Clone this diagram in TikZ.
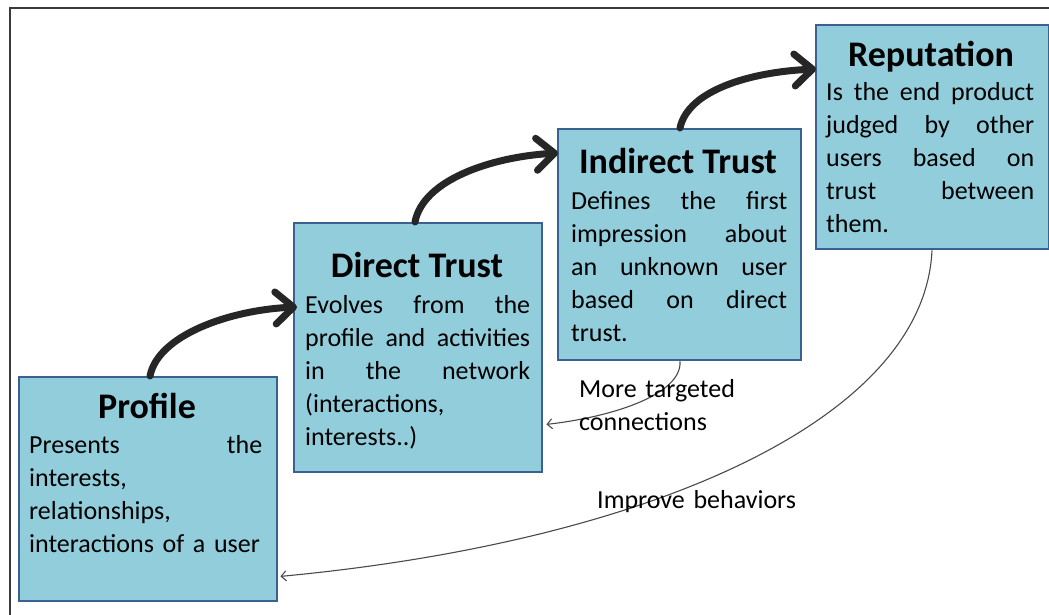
\documentclass[tikz,border=0pt]{standalone}
\usepackage{fontspec}
\setmainfont{Carlito}
\usetikzlibrary{arrows.meta}
\definecolor{boxfill}{HTML}{92CDDC}
\definecolor{boxline}{HTML}{3A6190}
\definecolor{arrowdark}{HTML}{262626}
\definecolor{thinarrow}{HTML}{4A4A4A}
\definecolor{frameline}{HTML}{3A3A3A}
\newcommand{\jl}[1]{\leavevmode\hbox to\hsize{#1}}
\tikzset{
  stagebox/.style={draw=boxline, fill=boxfill, line width=2.4pt, rectangle, inner sep=0pt, anchor=north west},
  stagetitle/.style={anchor=base, inner sep=0pt, font=\fontsize{36}{42}\selectfont\bfseries},
  stagebody/.style={anchor=base west, inner sep=0pt, align=left, font=\fontsize{26}{33}\selectfont},
  bigarrow/.style={draw=arrowdark, line width=7pt, line cap=round, -{Straight Barb[length=18pt,width=32pt,round]}},
  thinlink/.style={draw=thinarrow, line width=1.1pt, -{Straight Barb[length=5pt,width=10pt]}},
  linklabel/.style={anchor=base west, inner sep=0pt, align=left, font=\fontsize{26}{33}\selectfont}
}
\begin{document}
\begin{tikzpicture}[x=1pt,y=-1pt]
\useasboundingbox (0,0) rectangle (1049,615);
\fill[white] (0,0) rectangle (1049,615);
\draw[frameline, line width=2pt] (1070,8) -- (10,8) -- (10,630);

\node[stagebox, minimum width=258pt, minimum height=224pt] (profile) at (18,376) {};
\node[stagebox, minimum width=248pt, minimum height=249pt] (direct) at (293,222) {};
\node[stagebox, minimum width=243pt, minimum height=231pt] (indirect) at (557,128) {};
\node[stagebox, minimum width=233pt, minimum height=224pt] (reputation) at (815,24) {};

\node[stagetitle] (profiletitle) at (147,418) {Profile};
\node[stagetitle] (directtitle) at (417,277) {Direct Trust};
\node[stagetitle] (indirecttitle) at (678,173) {Indirect Trust};
\node[stagetitle] (reputationtitle) at (931,67) {Reputation};

\node[stagebody, text width=233pt] (profilebody) at (29,453)
  {\jl{Presents\hfill the}\\ interests,\\ relationships,\\ interactions of a user};
\node[stagebody, text width=225pt] (directbody) at (305,313)
  {\jl{Evolves\hfill from\hfill the}\\ \jl{profile\hfill and\hfill activities}\\ \jl{in\hfill the\hfill network}\\ (interactions,\\ interests..)};
\node[stagebody, text width=216pt] (indirectbody) at (571,209)
  {\jl{Defines\hfill the\hfill first}\\ \jl{impression\hfill about}\\ \jl{an\hfill unknown\hfill user}\\ \jl{based\hfill on\hfill direct}\\ trust.};
\node[stagebody, text width=208pt] (reputationbody) at (826,101)
  {\jl{Is\hfill the\hfill end\hfill product}\\ \jl{judged\hfill by\hfill other}\\ \jl{users\hfill based\hfill on}\\ \jl{trust\hfill between}\\ them.};

\draw[bigarrow] ([xshift=132pt]profile.north west) .. controls +(8,-41) and +(-67,3) .. ([shift={(4pt,-85pt)}]direct.north west);
\draw[bigarrow] ([xshift=122pt]direct.north west) .. controls +(8,-42) and +(-67,4) .. ([shift={(1pt,-25pt)}]indirect.north west);
\draw[bigarrow] ([xshift=123pt]indirect.north west) .. controls +(8,-38) and +(-65,3) .. ([shift={(1pt,-45pt)}]reputation.north west);

\draw[thinlink] ([xshift=123pt]indirect.south west) .. controls +(2,32) and +(70,-8) .. ([shift={(3pt,49pt)}]direct.south east);
\draw[thinlink] ([xshift=117pt]reputation.south west) .. controls +(-8,172) and +(362,-34) .. ([shift={(2pt,26pt)}]profile.south east);

\node[linklabel, text width=180pt] (targetedlabel) at (579,397) {More targeted\\connections};
\node[linklabel, text width=220pt] (improvelabel) at (597,508) {Improve behaviors};
\end{tikzpicture}
\end{document}
